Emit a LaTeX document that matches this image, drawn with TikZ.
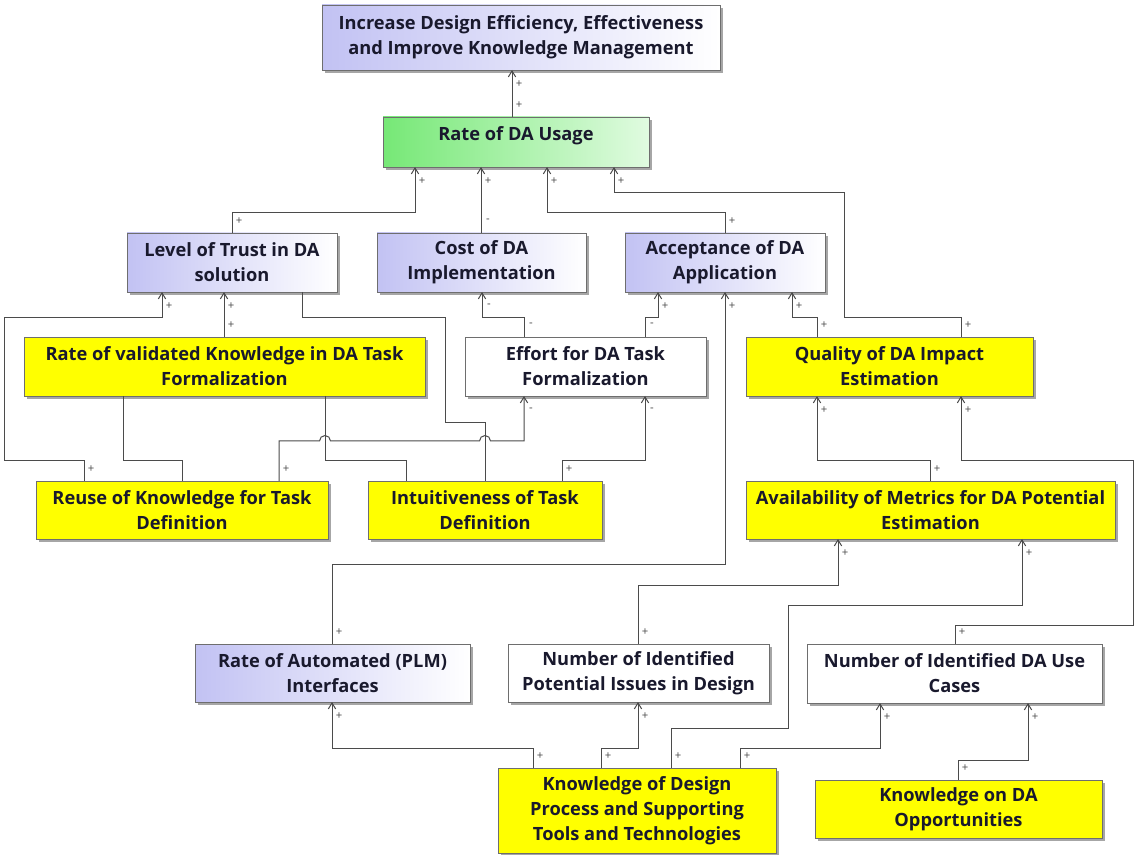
\documentclass[tikz,border=0pt]{standalone}
\usepackage{fontspec}
\setmainfont{Open Sans}
\usetikzlibrary{arrows.meta,shadows}
\definecolor{lav}{RGB}{194,194,243}
\definecolor{grnL}{RGB}{118,232,118}
\definecolor{grnR}{RGB}{224,251,224}
\definecolor{ylw}{RGB}{255,255,0}
\definecolor{edge}{RGB}{110,110,110}
\definecolor{wire}{RGB}{75,75,75}
\definecolor{txt}{RGB}{25,25,45}
\begin{document}
\begin{tikzpicture}[x=0.75pt,y=-0.75pt,
  box/.style={draw=edge, line width=0.6pt, align=center, outer sep=0pt, inner sep=0pt,
    font=\fontsize{13.7}{18.9}\selectfont\bfseries, text=txt,
    drop shadow={shadow xshift=2pt, shadow yshift=-2pt, fill=black!35, opacity=1}},
  lavbox/.style={box, left color=lav, right color=white},
  grnbox/.style={box, left color=grnL, right color=grnR},
  ylwbox/.style={box, fill=ylw},
  whtbox/.style={box, fill=white},
  conn/.style={draw=wire, line width=0.75pt},
  arr/.style={conn, -{Straight Barb[length=4.5pt,width=5.5pt]}},
  lab/.style={font=\fontsize{8.5}{9}\selectfont, text=wire, inner sep=0pt},
  slab/.style={lab, xshift=5.25pt, yshift=9pt},
  tlab/.style={lab, xshift=5.25pt, yshift=-10.5pt}
]
\useasboundingbox[fill=white] (0,0) rectangle (1136,855);

% boxes
\node[lavbox, minimum width=298.5pt, minimum height=48.75pt] (top) at (521,37.5) {Increase Design Efficiency, Effectiveness\\and Improve Knowledge Management};
\node[grnbox, minimum width=199.5pt, minimum height=37.5pt] (rate) at (516,142) {\raisebox{4.5pt}[\height][\depth]{Rate of DA Usage}};
\node[lavbox, minimum width=157.5pt, minimum height=44.25pt] (trust) at (232,262.5) {Level of Trust in DA\\solution};
\node[lavbox, minimum width=156.75pt, minimum height=44.25pt] (cost) at (481.5,262.5) {Cost of DA\\Implementation};
\node[lavbox, minimum width=150pt, minimum height=44.25pt] (accept) at (725,262.5) {Acceptance of DA\\Application};
\node[ylwbox, minimum width=300.75pt, minimum height=44.25pt] (validated) at (224.5,366.5) {Rate of validated Knowledge in DA Task\\Formalization};
\node[whtbox, minimum width=180.75pt, minimum height=44.25pt] (effort) at (585.5,366.5) {Effort for DA Task\\Formalization};
\node[ylwbox, minimum width=215.25pt, minimum height=44.25pt] (quality) at (889.5,366.5) {Quality of DA Impact\\Estimation};
\node[ylwbox, minimum width=219pt, minimum height=43.5pt] (reuse) at (182,510) {Reuse of Knowledge for Task\\Definition};
\node[ylwbox, minimum width=175.5pt, minimum height=43.5pt] (intuit) at (485,510) {Intuitiveness of Task\\Definition};
\node[ylwbox, minimum width=276.75pt, minimum height=43.5pt] (avail) at (930.5,510) {Availability of Metrics for DA Potential\\Estimation};
\node[lavbox, minimum width=206.25pt, minimum height=43.5pt] (plm) at (332.5,673) {Rate of Automated (PLM)\\Interfaces};
\node[whtbox, minimum width=195.75pt, minimum height=43.5pt] (issues) at (638.5,673) {Number of Identified\\Potential Issues in Design};
\node[whtbox, minimum width=221.25pt, minimum height=44.25pt] (usecases) at (954.5,673.5) {Number of Identified DA Use\\Cases};
\node[ylwbox, minimum width=208.5pt, minimum height=63.75pt] (kdesign) at (637,810.5) {Knowledge of Design\\Process and Supporting\\Tools and Technologies};
\node[ylwbox, minimum width=215.25pt, minimum height=43.5pt] (kda) at (958.5,809) {Knowledge on DA\\Opportunities};

% connectors to top
\draw[arr] (512,0 |- rate.north) node[slab] (s1) {+} -- (512,0 |- top.south) node[tlab] (t1) {+};
% to rate
\draw[arr] (232,0 |- trust.north) node[slab] (s2) {+} -- (232,213) -- (415,213) -- (415,0 |- rate.south) node[tlab] (t2) {+};
\draw[arr] (481,0 |- cost.north) node[slab] (s3) {-} -- (481,0 |- rate.south) node[tlab] (t3) {+};
\draw[arr] (725,0 |- accept.north) node[slab] (s4) {+} -- (725,213) -- (547,213) -- (547,0 |- rate.south) node[tlab] (t4) {+};
\draw[arr] (961,0 |- quality.north) node[slab] (s5) {+} -- (961,318) -- (844,318) -- (844,193) -- (614,193) -- (614,0 |- rate.south) node[tlab] (t5) {+};
% to trust
\draw[arr] (224,0 |- validated.north) node[slab] (s6) {+} -- (224,0 |- trust.south) node[tlab] (t6) {+};
\draw[arr] (84,0 |- reuse.north) node[slab] (s7) {+} -- (84,461) -- (4,461) -- (4,318) -- (162,318) -- (162,0 |- trust.south) node[tlab] (t7) {+};
% plain links
\draw[conn] (123,0 |- validated.south) -- (123,461) -- (182,461) -- (182,0 |- reuse.north);
\draw[conn] (325,0 |- validated.south) -- (325,461) -- (406,461) -- (406,0 |- intuit.north);
\draw[conn] (302,0 |- trust.south) -- (302,318) -- (445,318) -- (445,423) -- (485,423) -- (485,0 |- intuit.north);
% to effort
\draw[arr] (279,0 |- reuse.north) node[slab] (s11) {+} -- (279,441) -- (319.5,441)
   arc[start angle=180, end angle=0, radius=4.125pt] -- (479.5,441)
   arc[start angle=180, end angle=0, radius=4.125pt] -- (524,441) -- (524,0 |- effort.south) node[tlab] (t11) {-};
\draw[arr] (562,0 |- intuit.north) node[slab] (s12) {+} -- (562,461) -- (645,461) -- (645,0 |- effort.south) node[tlab] (t12) {-};
% effort to cost / accept
\draw[arr] (524,0 |- effort.north) node[slab] (s13) {-} -- (524,318) -- (482,318) -- (482,0 |- cost.south) node[tlab] (t13) {-};
\draw[arr] (645,0 |- effort.north) node[slab] (s14) {-} -- (645,318) -- (658,318) -- (658,0 |- accept.south) node[tlab] (t14) {+};
% to accept
\draw[arr] (817,0 |- quality.north) node[slab] (s15) {+} -- (817,318) -- (792,318) -- (792,0 |- accept.south) node[tlab] (t15) {+};
\draw[arr] (332,0 |- plm.north) node[slab] (s16) {+} -- (332,565) -- (725,565) -- (725,0 |- accept.south) node[tlab] (t16) {+};
% to quality
\draw[arr] (930,0 |- avail.north) node[slab] (s17) {+} -- (930,461) -- (817,461) -- (817,0 |- quality.south) node[tlab] (t17) {+};
\draw[arr] (955,0 |- usecases.north) node[slab] (s18) {+} -- (955,625) -- (1133.5,625) -- (1133.5,461) -- (961,461) -- (961,0 |- quality.south) node[tlab] (t18) {+};
% to avail
\draw[arr] (638,0 |- issues.north) node[slab] (s19) {+} -- (638,585) -- (838,585) -- (838,0 |- avail.south) node[tlab] (t19) {+};
\draw[arr] (671,0 |- kdesign.north) node[slab] (s20) {+} -- (671,728) -- (788,728) -- (788,605) -- (1022,605) -- (1022,0 |- avail.south) node[tlab] (t20) {+};
% from knowledge of design
\draw[arr] (533,0 |- kdesign.north) node[slab] (s21) {+} -- (533,748) -- (332,748) -- (332,0 |- plm.south) node[tlab] (t21) {+};
\draw[arr] (601,0 |- kdesign.north) node[slab] (s22) {+} -- (601,748) -- (638,748) -- (638,0 |- issues.south) node[tlab] (t22) {+};
\draw[arr] (740,0 |- kdesign.north) node[slab] (s23) {+} -- (740,748) -- (880,748) -- (880,0 |- usecases.south) node[tlab] (t23) {+};
\draw[arr] (958,0 |- kda.north) node[slab] (s24) {+} -- (958,760) -- (1028,760) -- (1028,0 |- usecases.south) node[tlab] (t24) {+};
\end{tikzpicture}
\end{document}
